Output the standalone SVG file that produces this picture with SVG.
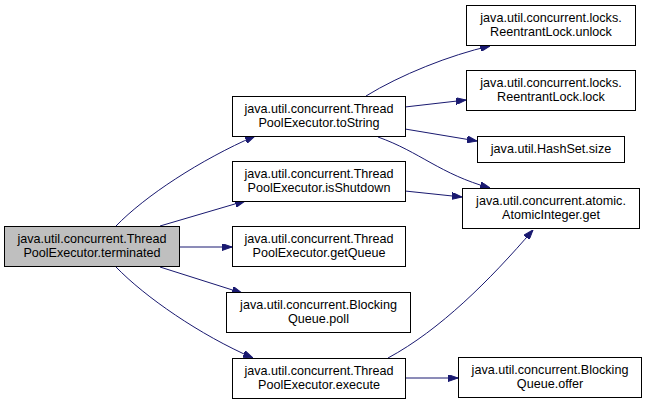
<svg xmlns="http://www.w3.org/2000/svg" width="648" height="404" viewBox="0 0 648 404">
<style>
.n rect{fill:#fff;stroke:#000;stroke-width:1}
.n.cur rect{fill:#bfbfbf}
text{font-family:"Liberation Sans",Arial,sans-serif;font-size:12.6px;fill:#000;text-anchor:middle}
.e path{fill:none;stroke:#191970;stroke-width:1;marker-end:url(#a)}
</style>
<defs>
<marker id="a" viewBox="0 0 10 7" refX="10" refY="3.5" markerWidth="10" markerHeight="7" markerUnits="userSpaceOnUse" orient="auto">
<path d="M0,0 L10,3.5 L0,7 z" fill="#191970" stroke="#191970"/>
</marker>
</defs>
<rect width="648" height="404" fill="#fff"/>
<g id="edges" class="e">
<path d="M116,226 C145,196 200,160 255,136"/>
<path d="M160,226 L245,201"/>
<path d="M179,247 L232,247"/>
<path d="M160,267 L242,293"/>
<path d="M116,267 C145,297 200,335 253,358"/>
<path d="M366,96 C400,75 450,55 490,46"/>
<path d="M405,107 L466,100"/>
<path d="M405,129 L477,141"/>
<path d="M378,137 C420,152 440,174 490,188"/>
<path d="M405,191 L462,197"/>
<path d="M388,358 C440,330 490,280 533,230"/>
<path d="M405,378 L458,378"/>
</g>
<g id="terminated" class="n cur"><rect x="4.5" y="226.5" width="175" height="40"/><text x="92" y="243">java.util.concurrent.Thread</text><text x="92" y="257">PoolExecutor.terminated</text></g>
<g id="toString" class="n"><rect x="232.5" y="96.5" width="173" height="40"/><text x="319" y="113">java.util.concurrent.Thread</text><text x="319" y="127">PoolExecutor.toString</text></g>
<g id="isShutdown" class="n"><rect x="232.5" y="161.5" width="173" height="40"/><text x="319" y="178">java.util.concurrent.Thread</text><text x="319" y="192">PoolExecutor.isShutdown</text></g>
<g id="getQueue" class="n"><rect x="232.5" y="226.5" width="173" height="40"/><text x="319" y="243">java.util.concurrent.Thread</text><text x="319" y="257">PoolExecutor.getQueue</text></g>
<g id="poll" class="n"><rect x="226.5" y="292.5" width="184" height="40"/><text x="318.5" y="309">java.util.concurrent.Blocking</text><text x="318.5" y="323">Queue.poll</text></g>
<g id="execute" class="n"><rect x="232.5" y="358.5" width="173" height="40"/><text x="319" y="375">java.util.concurrent.Thread</text><text x="319" y="389">PoolExecutor.execute</text></g>
<g id="unlock" class="n"><rect x="466.5" y="5.5" width="169" height="40"/><text x="551" y="22">java.util.concurrent.locks.</text><text x="551" y="36">ReentrantLock.unlock</text></g>
<g id="lock" class="n"><rect x="466.5" y="70.5" width="169" height="40"/><text x="551" y="87">java.util.concurrent.locks.</text><text x="551" y="101">ReentrantLock.lock</text></g>
<g id="size" class="n"><rect x="477.5" y="136.5" width="147" height="26"/><text x="551" y="153">java.util.HashSet.size</text></g>
<g id="get" class="n"><rect x="462.5" y="188.5" width="177" height="40"/><text x="551" y="205">java.util.concurrent.atomic.</text><text x="551" y="219">AtomicInteger.get</text></g>
<g id="offer" class="n"><rect x="458.5" y="357.5" width="183" height="40"/><text x="550" y="374">java.util.concurrent.Blocking</text><text x="550" y="388">Queue.offer</text></g>
</svg>
